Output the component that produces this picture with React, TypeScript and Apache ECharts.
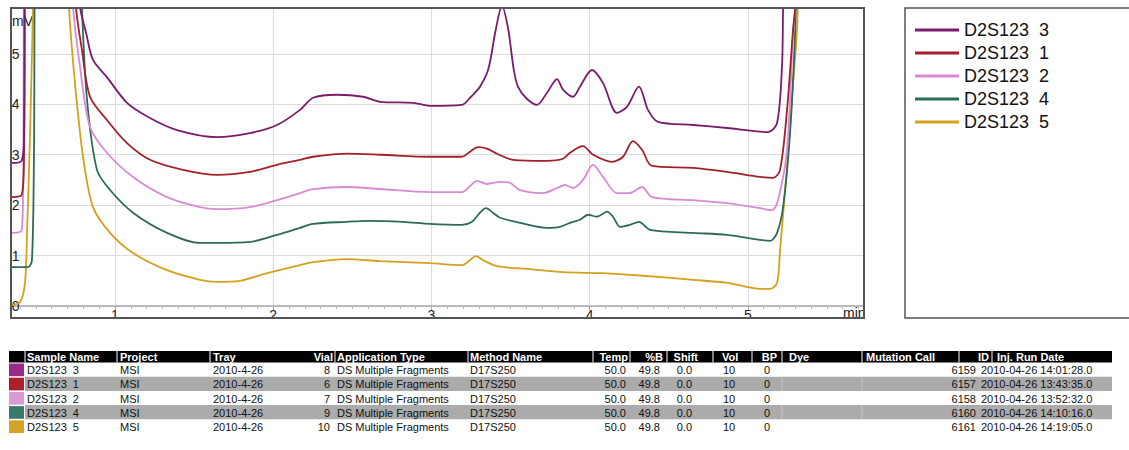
import React, { useEffect, useRef } from "react";
import * as echarts from "echarts";

type Pt = [number, number];

// ---- chart data (minutes, mV) ----
const seriesNames = ["D2S123  3", "D2S123  1", "D2S123  2", "D2S123  4", "D2S123  5"];
const lineColors = ["#7b1b6c", "#a31f2c", "#d98ad5", "#2c6a59", "#d4a11d"];
const swatchColors = ["#962a87", "#ad1f2b", "#d99ad6", "#3a7a6a", "#d4a428"];

const trace3: Pt[] = [
  [0.345, 2.84], [0.41, 2.88], [0.425, 3.4], [0.435, 7], [0.765, 7], [0.779, 5.93], [0.817, 5.42],
  [0.861, 4.88], [0.949, 4.54], [1.076, 4.03], [1.221, 3.73], [1.392, 3.49], [1.645, 3.35], [1.853, 3.43],
  [2.024, 3.59], [2.17, 3.89], [2.252, 4.13], [2.403, 4.19], [2.568, 4.15], [2.675, 4.05], [2.884, 4.03],
  [2.991, 3.97], [3.193, 3.99], [3.25, 4.15], [3.307, 4.35], [3.36, 4.7], [3.405, 5.45], [3.446, 5.95],
  [3.485, 5.5], [3.52, 4.7], [3.547, 4.35], [3.6, 4.12], [3.667, 3.99], [3.731, 4.23], [3.794, 4.5],
  [3.832, 4.29], [3.895, 4.15], [3.939, 4.35], [4.015, 4.68], [4.085, 4.42], [4.173, 3.83], [4.236, 3.95],
  [4.312, 4.35], [4.369, 3.89], [4.433, 3.65], [4.654, 3.59], [4.869, 3.53], [5.128, 3.45], [5.185, 3.63],
  [5.216, 4.74], [5.223, 5.91], [5.23, 7],
];
const trace1: Pt[] = [
  [0.345, 2.16], [0.41, 2.2], [0.425, 3.0], [0.435, 7], [0.745, 7], [0.753, 5.93], [0.791, 5.08],
  [0.842, 4.15], [0.949, 3.69], [1.076, 3.23], [1.221, 2.9], [1.43, 2.7], [1.645, 2.6], [1.853, 2.66],
  [2.024, 2.8], [2.17, 2.9], [2.252, 2.96], [2.466, 3.02], [2.675, 3.0], [2.991, 2.96], [3.193, 2.96],
  [3.244, 3.06], [3.294, 3.15], [3.351, 3.12], [3.415, 3.02], [3.516, 2.9], [3.731, 2.88], [3.832, 2.92],
  [3.876, 3.04], [3.958, 3.17], [4.022, 3.0], [4.142, 2.86], [4.211, 2.96], [4.274, 3.27], [4.331, 3.1],
  [4.394, 2.78], [4.654, 2.74], [4.869, 2.66], [5.078, 2.56], [5.16, 2.54], [5.204, 2.7], [5.248, 3.89],
  [5.286, 5.48], [5.299, 5.91], [5.305, 7],
];
const trace2: Pt[] = [
  [0.345, 1.45], [0.41, 1.5], [0.42, 2.5], [0.43, 7], [0.725, 7], [0.735, 5.93], [0.779, 4.74],
  [0.842, 3.55], [0.949, 3.04], [1.114, 2.56], [1.329, 2.16], [1.538, 1.96], [1.645, 1.92], [1.853, 1.96],
  [2.024, 2.1], [2.17, 2.24], [2.252, 2.32], [2.466, 2.36], [2.675, 2.32], [2.991, 2.26], [3.193, 2.26],
  [3.244, 2.38], [3.288, 2.48], [3.351, 2.42], [3.434, 2.46], [3.497, 2.44], [3.56, 2.3], [3.705, 2.24],
  [3.794, 2.34], [3.844, 2.4], [3.895, 2.34], [3.958, 2.5], [4.022, 2.8], [4.085, 2.56], [4.173, 2.24],
  [4.255, 2.24], [4.331, 2.36], [4.394, 2.16], [4.654, 2.1], [4.869, 2.04], [5.078, 1.94], [5.153, 1.9],
  [5.191, 2.1], [5.248, 3.1], [5.286, 5.42], [5.299, 5.91], [5.305, 7],
];
const trace4: Pt[] = [
  [0.345, 0.77], [0.45, 0.77], [0.475, 0.91], [0.488, 3.1], [0.497, 7], [0.785, 7], [0.791, 5.93],
  [0.823, 4.09], [0.886, 2.7], [0.969, 2.3], [1.114, 1.85], [1.329, 1.45], [1.538, 1.25], [1.645, 1.25],
  [1.853, 1.27], [2.024, 1.41], [2.17, 1.55], [2.252, 1.63], [2.466, 1.67], [2.593, 1.69], [2.82, 1.67],
  [2.991, 1.63], [3.193, 1.61], [3.257, 1.67], [3.307, 1.85], [3.345, 1.94], [3.389, 1.85], [3.434, 1.75],
  [3.56, 1.65], [3.731, 1.55], [3.813, 1.57], [3.876, 1.65], [3.939, 1.71], [3.99, 1.81], [4.047, 1.77],
  [4.11, 1.87], [4.148, 1.77], [4.192, 1.57], [4.255, 1.61], [4.312, 1.67], [4.382, 1.51], [4.654, 1.45],
  [4.869, 1.41], [5.078, 1.31], [5.141, 1.29], [5.185, 1.45], [5.223, 1.96], [5.267, 3.43], [5.299, 5.42],
  [5.31, 7],
];
const trace5: Pt[] = [
  [0.345, 0.02], [0.4, 0.08], [0.431, 0.46], [0.444, 1.45], [0.463, 3.43], [0.482, 5.93], [0.49, 7],
  [0.7, 7], [0.709, 5.93], [0.747, 4.42], [0.798, 2.96], [0.861, 1.96], [0.969, 1.45], [1.114, 1.05],
  [1.329, 0.71], [1.538, 0.52], [1.645, 0.48], [1.79, 0.5], [1.961, 0.65], [2.17, 0.81], [2.252, 0.87],
  [2.466, 0.93], [2.675, 0.89], [2.991, 0.85], [3.193, 0.81], [3.244, 0.91], [3.282, 0.99], [3.326, 0.91],
  [3.415, 0.79], [3.624, 0.73], [3.832, 0.67], [4.085, 0.65], [4.337, 0.6], [4.654, 0.52], [4.869, 0.46],
  [5.078, 0.34], [5.141, 0.34], [5.185, 0.46], [5.204, 1.11], [5.248, 2.76], [5.286, 4.42], [5.312, 5.54],
  [5.32, 7],
];
const traces = [trace3, trace1, trace2, trace4, trace5];

const xTickLabels = [1, 2, 3, 4, 5];
const yTickLabels = [0, 1, 2, 3, 4, 5];

// ---- table data ----
const tableHeaders = [
  "Sample Name", "Project", "Tray", "Vial", "Application Type", "Method Name", "Temp", "%B",
  "Shift", "Vol", "BP", "Dye", "Mutation Call", "ID", "Inj. Run Date",
];
const projects = ["MSI", "MSI", "MSI", "MSI", "MSI"];
const trays = ["2010-4-26", "2010-4-26", "2010-4-26", "2010-4-26", "2010-4-26"];
const vials = ["8", "6", "7", "9", "10"];
const appTypes = ["DS Multiple Fragments", "DS Multiple Fragments", "DS Multiple Fragments", "DS Multiple Fragments", "DS Multiple Fragments"];
const methods = ["D17S250", "D17S250", "D17S250", "D17S250", "D17S250"];
const temps = ["50.0", "50.0", "50.0", "50.0", "50.0"];
const pctB = ["49.8", "49.8", "49.8", "49.8", "49.8"];
const shifts = ["0.0", "0.0", "0.0", "0.0", "0.0"];
const vols = ["10", "10", "10", "10", "10"];
const bps = ["0", "0", "0", "0", "0"];
const dyes = ["", "", "", "", ""];
const mutationCalls = ["", "", "", "", ""];
const ids = ["6159", "6157", "6158", "6160", "6161"];
const runDates = [
  "2010-04-26 14:01:28.0", "2010-04-26 13:43:35.0", "2010-04-26 13:52:32.0",
  "2010-04-26 14:10:16.0", "2010-04-26 14:19:05.0",
];

const FONT = "'Liberation Sans', Arial, Helvetica, sans-serif";

function txt(x: number, y: number, text: string, opts: any = {}) {
  const align = opts.align || "left";
  return {
    type: "text",
    x,
    y,
    z: opts.z ?? 100,
    silent: true,
    style: {
      text,
      fill: opts.fill || "#111",
      fontSize: opts.fontSize || 11,
      fontFamily: FONT,
      fontWeight: opts.fontWeight || "normal",
      align,
      textAlign: align,
      verticalAlign: "middle",
      textVerticalAlign: "middle",
    },
  };
}

function buildGraphics() {
  const els: any[] = [];
  // white covers outside plot frame
  els.push({ type: "rect", z: 50, silent: true, shape: { x: 0, y: 0, width: 10.5, height: 340 }, style: { fill: "#fff" } });
  els.push({ type: "rect", z: 50, silent: true, shape: { x: 864.5, y: 0, width: 44, height: 340 }, style: { fill: "#fff" } });
  els.push({ type: "rect", z: 50, silent: true, shape: { x: 0, y: 319, width: 910, height: 25 }, style: { fill: "#fff" } });
  // plot frame
  els.push({ type: "rect", z: 60, silent: true, shape: { x: 11, y: 8, width: 853, height: 310 }, style: { fill: "none", stroke: "#555", lineWidth: 2 } });
  // legend box
  els.push({ type: "rect", z: 60, silent: true, shape: { x: 905, y: 8, width: 260, height: 310 }, style: { fill: "none", stroke: "#555", lineWidth: 1.5 } });
  // axis names
  els.push(txt(12, 21, "mV", { fontSize: 14, z: 1, fill: "#222" }));
  els.push(txt(843, 313, "min", { fontSize: 14, z: 55, fill: "#222" }));

  // table
  const headTop = 351;
  const headH = 11.5;
  const rowTop0 = 362.5;
  const rowH = 14.2;
  els.push({ type: "rect", z: 90, silent: true, shape: { x: 9, y: headTop, width: 1103, height: headH }, style: { fill: "#000" } });
  const headerX: [number, string][] = [
    [27, "left"], [120, "left"], [213, "left"], [333, "right"], [337, "left"], [470, "left"],
    [628, "right"], [663, "right"], [698, "right"], [722, "left"], [777, "right"], [789, "left"],
    [866, "left"], [989, "right"], [997, "left"],
  ];
  const seps = [25, 117, 210, 335, 468, 593, 630, 667, 713, 752, 782, 862, 959, 992];
  seps.forEach((sx) => {
    els.push({ type: "line", z: 95, silent: true, shape: { x1: sx, y1: headTop, x2: sx, y2: headTop + headH }, style: { stroke: "#fff", lineWidth: 1 } });
  });
  tableHeaders.forEach((h, i) => {
    els.push(txt(headerX[i][0], headTop + headH / 2 + 0.5, h, { align: headerX[i][1], fill: "#fff", fontWeight: "bold", fontSize: 11 }));
  });
  const dataCols: { vals: string[]; x: number; align: string }[] = [
    { vals: seriesNames, x: 27, align: "left" },
    { vals: projects, x: 120, align: "left" },
    { vals: trays, x: 213, align: "left" },
    { vals: vials, x: 330, align: "right" },
    { vals: appTypes, x: 337, align: "left" },
    { vals: methods, x: 470, align: "left" },
    { vals: temps, x: 626, align: "right" },
    { vals: pctB, x: 660, align: "right" },
    { vals: shifts, x: 692, align: "right" },
    { vals: vols, x: 723, align: "left" },
    { vals: bps, x: 764, align: "left" },
    { vals: dyes, x: 789, align: "left" },
    { vals: mutationCalls, x: 866, align: "left" },
    { vals: ids, x: 976, align: "right" },
    { vals: runDates, x: 981, align: "left" },
  ];
  for (let r = 0; r < seriesNames.length; r++) {
    const top = rowTop0 + r * rowH;
    if (r % 2 === 1) {
      els.push({ type: "rect", z: 90, silent: true, shape: { x: 25, y: top, width: 1087, height: rowH }, style: { fill: "#ababab" } });
      [782, 862, 959].forEach((sx) => {
        els.push({ type: "line", z: 92, silent: true, shape: { x1: sx, y1: top, x2: sx, y2: top + rowH }, style: { stroke: "#c6c6c6", lineWidth: 1 } });
      });
    }
    els.push({ type: "rect", z: 91, silent: true, shape: { x: 9, y: top + 1, width: 15, height: rowH - 1.5 }, style: { fill: swatchColors[r] } });
    dataCols.forEach((c) => {
      if (c.vals[r]) els.push(txt(c.x, top + rowH / 2 + 0.5, c.vals[r], { align: c.align }));
    });
  }
  return els;
}

export default function App() {
  const ref = useRef<HTMLDivElement>(null);
  useEffect(() => {
    if (!ref.current) return;
    const chart = echarts.init(ref.current, undefined, { renderer: "svg" });
    const isTick = (v: number, list: number[]) => list.some((t) => Math.abs(t - v) < 1e-6);
    chart.setOption({
      animation: false,
      backgroundColor: "#fff",
      textStyle: { fontFamily: FONT },
      grid: { left: -43.2, right: 223, top: 8, bottom: 144, containLabel: false, outerBoundsMode: "none" },
      legend: {
        data: seriesNames,
        orient: "vertical",
        left: 910,
        top: 16,
        icon: "rect",
        itemWidth: 44,
        itemHeight: 3,
        itemGap: 5,
        textStyle: { fontSize: 18, color: "#111", fontFamily: FONT },
        selectedMode: false,
      },
      xAxis: {
        type: "value",
        min: 0,
        max: 6,
        interval: 1,
        axisLine: { show: true, lineStyle: { color: "#aaa", width: 1.5 } },
        axisTick: { show: true, length: 4, lineStyle: { color: "#aaa" } },
        minorTick: { show: true, splitNumber: 10, length: 3, lineStyle: { color: "#bbb" } },
        axisLabel: {
          margin: 2,
          fontSize: 14,
          color: "#222",
          fontFamily: FONT,
          formatter: (v: number) => (isTick(v, xTickLabels) ? String(Math.round(v)) : ""),
        },
        splitLine: { show: true, lineStyle: { color: "#dcdcdc", width: 1 } },
      },
      yAxis: {
        type: "value",
        min: 0,
        max: 5.91,
        interval: 1,
        axisLine: { show: false },
        axisTick: { show: false },
        axisLabel: {
          inside: true,
          margin: 55,
          fontSize: 14,
          color: "#222",
          fontFamily: FONT,
          formatter: (v: number) => (isTick(v, yTickLabels) ? String(Math.round(v)) : ""),
        },
        splitLine: { show: true, lineStyle: { color: "#dcdcdc", width: 1 } },
      },
      series: traces.map((d, i) => ({
        name: seriesNames[i],
        type: "line",
        data: d,
        symbol: "none",
        smooth: 0.3,
        clip: true,
        lineStyle: { color: lineColors[i], width: 1.8 },
        itemStyle: { color: lineColors[i] },
        z: 10 - i,
      })),
      graphic: { elements: buildGraphics() },
    });
    return () => chart.dispose();
  }, []);
  return (
    <div
      ref={ref}
      style={{ position: "fixed", left: 0, top: 0, width: 1129, height: 450, background: "#fff" }}
    />
  );
}
